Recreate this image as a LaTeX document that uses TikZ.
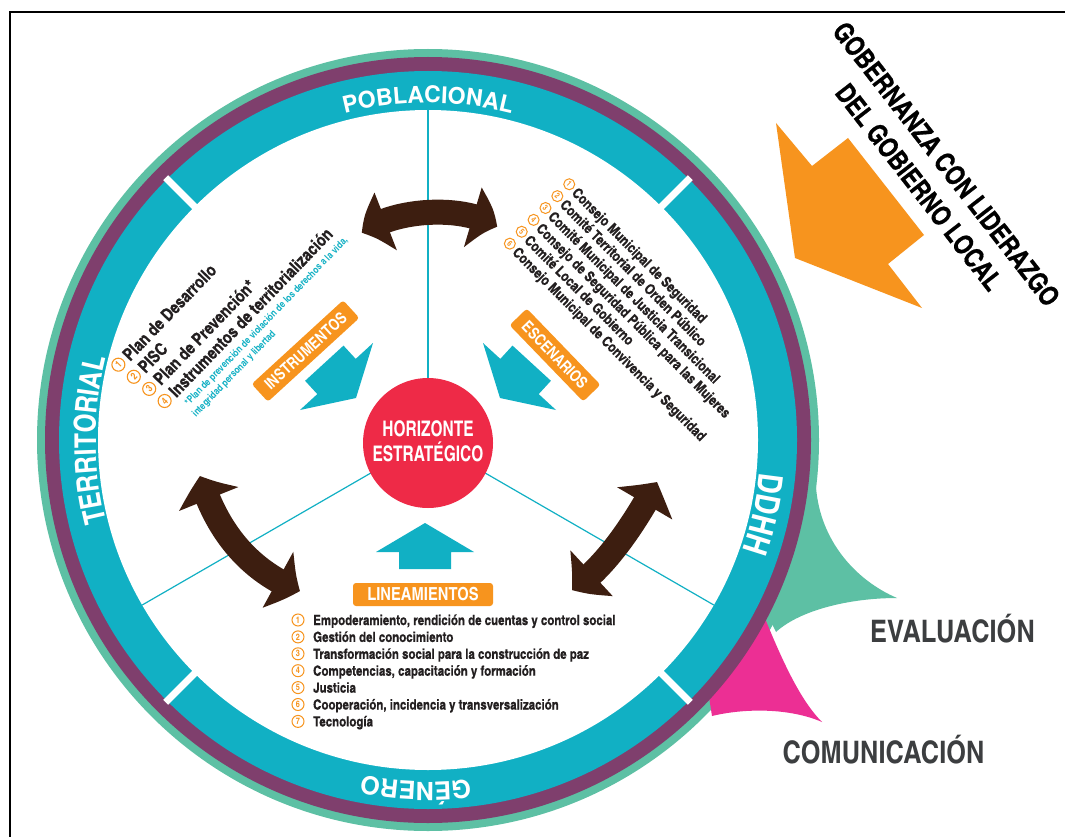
\documentclass[tikz,border=0pt]{standalone}
\usepackage{fontspec}
\newfontfamily\cn{texgyreheroscn-bold}[Extension=.otf]
\newfontfamily\cnb{texgyreheroscn-bold}[Extension=.otf,FakeBold=0.6]
\newfontfamily\cnx{texgyreheroscn-bold}[Extension=.otf,FakeStretch=0.88]
\newfontfamily\hb{texgyreheros-bold}[Extension=.otf]
\usetikzlibrary{arrows.meta,bending,decorations.text,calc}
\definecolor{cteal}{HTML}{11B0C4}
\definecolor{cpurple}{HTML}{7F3F6D}
\definecolor{cgreen}{HTML}{5DC0A4}
\definecolor{cpink}{HTML}{EC2F94}
\definecolor{cred}{HTML}{EE2A47}
\definecolor{corange}{HTML}{F7941E}
\definecolor{cbrown}{HTML}{3D1E10}
\definecolor{cgray}{HTML}{3C3E40}
\definecolor{ctext}{HTML}{231F20}
\newcommand\myfs[2]{\fontsize{#1}{#2}\selectfont}
\newcommand\rfpob{\color{white}\hb\fontsize{23}{23}\selectfont}
\newcommand\rfter{\color{white}\cn\fontsize{30}{30}\selectfont}
\newcommand\rfdd{\color{white}\cn\fontsize{34}{34}\selectfont}
\newcommand\rfgen{\color{white}\hb\fontsize{25}{25}\selectfont}
\begin{document}
\begin{tikzpicture}[x=1pt,y=1pt,
  lnum/.style={circle,draw=corange,line width=1.1pt,text=corange,inner sep=0pt,minimum size=13pt,font=\cn\myfs{10}{10}},
  snum/.style={circle,draw=corange,line width=1pt,text=corange,inner sep=0pt,minimum size=11pt,font=\cn\myfs{8}{8}},
  obox/.style={fill=corange,rounded corners=3pt,text=white,inner sep=0pt,font=\cn\myfs{16}{16}},
  barrow/.style={draw=cbrown,line width=25pt,arrows={Triangle[width=62pt,length=25pt,bend]-Triangle[width=62pt,length=25pt,bend]}},
  tarrow/.style={fill=cteal},
  litem/.style={anchor=base west,inner sep=0pt,text=ctext}]
\useasboundingbox (0,0) rectangle (1065,-837);
\fill[white] (0,0) rectangle (1065,-837);
\draw[line width=1.3pt] (10,-837) -- (10,-12) -- (1065,-12);

\coordinate (O) at (428,-440);

% rings and tails
\fill[cgreen] (O) circle[radius=391];
\fill[cgreen] (816,-487) .. controls (820,-540) and (855,-580) .. (897,-598)
   .. controls (850,-598) and (800,-610) .. (776,-632) -- (740,-560) -- cycle;
\fill[cpink] (764,-616) .. controls (782,-660) and (800,-700) .. (822,-722)
   .. controls (790,-708) and (745,-708) .. (712,-716) -- (700,-640) -- cycle;
\fill[cpurple] (O) circle[radius=383];
\fill[cteal] (O) circle[radius=369];
\fill[white] (O) circle[radius=330];
\foreach \a in {45,135,225,315}
  \draw[white,line width=7pt] ($(O)+(\a:328)$) -- ($(O)+(\a:371)$);

% ring labels
\path[decorate,decoration={text along path,text align=center,text={|\rfpob|POBLACIONAL}}]
  ($(O)+(125:337)$) arc[start angle=125,end angle=55,radius=337];
\path[decorate,decoration={text along path,text align=center,text={|\rfter|TERRITORIAL}}]
  ($(O)+(215:332)$) arc[start angle=215,end angle=145,radius=332];
\path[decorate,decoration={text along path,text align=center,text={|\rfdd|DDHH}}]
  ($(O)+(17.5:333)$) arc[start angle=17.5,end angle=-42.5,radius=333];
\path[decorate,decoration={text along path,text align=center,text={|\rfgen|GÉNERO}}]
  ($(O)+(298:342)$) arc[start angle=298,end angle=238,radius=342];

% radial lines
\foreach \a in {90,210,330}
  \draw[cteal,line width=1.2pt] (O) -- ($(O)+(\a:330)$);

% brown double arrows
\coordinate (t0) at (362,-233); \coordinate (t1) at (497,-227);
\draw[barrow] (t0) .. controls (392,-209) and (465,-204) .. (t1);
\coordinate (l0) at (200,-476); \coordinate (l1) at (300,-591);
\draw[barrow] (l0) .. controls (217,-533) and (251,-572) .. (l1);
\coordinate (r0) at (657,-482); \coordinate (r1) at (572,-590);
\draw[barrow] (r0) .. controls (629,-534) and (601,-570) .. (r1);

% teal arrows
\fill[tarrow] (356,-398) -- (300,-410) -- (317.3,-394.1) -- (305.1,-380.8) -- (343.5,-345.6) -- (355.7,-358.9) -- (373,-343) -- cycle;
\fill[tarrow] (500,-398) -- (556,-410) -- (538.7,-394.1) -- (550.9,-380.8) -- (512.5,-345.6) -- (500.3,-358.9) -- (483,-343) -- cycle;
\fill[tarrow] (425,-523) -- (474,-552) -- (451,-552) -- (451,-569) -- (399,-569) -- (399,-552) -- (376,-552) -- cycle;

% centre
\node[circle,fill=cred,minimum size=130pt,inner sep=0pt] (hz) at (428,-443) {};
\node[font=\cnx\myfs{21.5}{25},text=white,align=center,inner sep=0pt] (hzt) at (428,-441.5) {HORIZONTE\\ESTRATÉGICO};

% orange labels
\node[obox,rotate=42.5,minimum width=124pt,minimum height=24pt] (ins) at (305.5,-351) {INSTRUMENTOS};
\node[obox,rotate=-46,minimum width=106pt,minimum height=24pt] (esc) at (555,-355) {ESCENARIOS};
\node[obox,minimum width=140pt,minimum height=23pt,font=\cn\myfs{18}{18}] (lin) at (423,-594.5) {LINEAMIENTOS};

% left list
\begin{scope}[shift={(130,-362)},rotate=46,transform shape]
\foreach \i/\t in {1/{Plan de Desarrollo},2/{PISC},3/{Plan de Prevención*},4/{Instrumentos de territorialización}}{
  \node[lnum] (ln\i) at ({2*(\i-1)-10},{-19.5*(\i-1)+6.5}) {\i};
  \node[litem,font=\cnb\myfs{17.5}{17.5}] (lt\i) at ({2*(\i-1)},{-19.5*(\i-1)}) {\t};
}
\node[litem,text=cteal,font=\cn\myfs{10}{10}] (fn1) at (9,-73) {*Plan de prevención de violación de los derechos a la vida,};
\node[litem,text=cteal,font=\cn\myfs{10}{10}] (fn2) at (6,-86) {integridad personal y libertad};
\end{scope}

% right list
\begin{scope}[shift={(571,-193.8)},rotate=-45,transform shape]
\foreach \i/\t in {1/{Consejo Municipal de Seguridad},2/{Comité Territorial de Orden Público},3/{Comité Municipal de Justicia Transicional},4/{Consejo de Seguridad Pública para las Mujeres},5/{Comité Local de Gobierno},6/{Consejo Municipal de Convivencia y Seguridad}}{
  \node[snum] (rn\i) at (-8,{-16.8*(\i-1)+5.5}) {\i};
  \node[litem,font=\cnb\myfs{14.5}{14.5}] (rt\i) at (0,{-16.8*(\i-1)}) {\t};
}
\end{scope}

% bottom list
\foreach \i/\t in {1/{Empoderamiento, rendición de cuentas y control social},2/{Gestión del conocimiento},3/{Transformación social para la construcción de paz},4/{Competencias, capacitación y formación},5/{Justicia},6/{Cooperación, incidencia y transversalización},7/{Tecnología}}{
  \node[snum,minimum size=12pt,font=\cn\myfs{9}{9}] (bn\i) at (298,{-(620+16.9*(\i-1))}) {\i};
  \node[litem,font=\cnb\myfs{14}{14}] (bt\i) at (313,{-(625+16.9*(\i-1))}) {\t};
}

% governance
\fill[corange] (795,-258) -- (776,-123) -- (812,-166) -- (848,-138) -- (924,-235) -- (888,-264) -- (922,-308) -- cycle;
\node[font=\cnb\myfs{27}{27},rotate=-52.2,inner sep=0pt] (gob1) at (946.5,-164) {GOBERNANZA CON LIDERAZGO};
\node[font=\cnb\myfs{27}{27},rotate=-52.2,inner sep=0pt] (gob2) at (919,-187) {DEL GOBIERNO LOCAL};

% outside labels
\node[font=\cn\myfs{31}{31},text=cgray,anchor=base,inner sep=0pt] (eva) at (952.5,-642) {EVALUACIÓN};
\node[font=\cn\myfs{31}{31},text=cgray,anchor=base,inner sep=0pt] (com) at (883.5,-763) {COMUNICACIÓN};
\end{tikzpicture}
\end{document}
